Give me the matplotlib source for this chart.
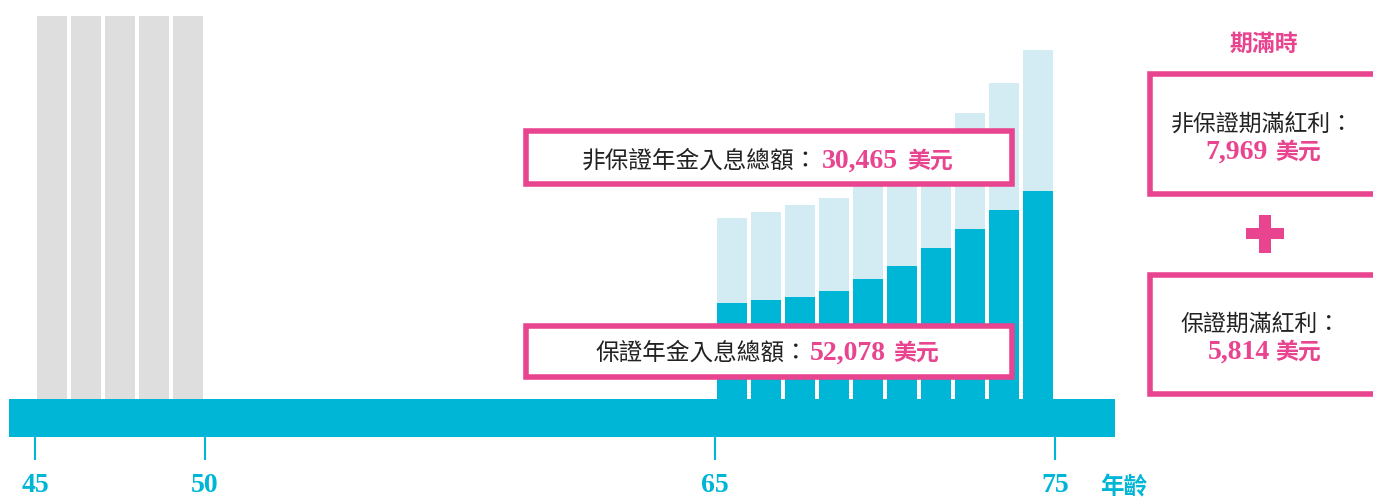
import numpy as np
import matplotlib
matplotlib.use("Agg")
import matplotlib.pyplot as plt
from matplotlib.patches import Rectangle

# ---------------- data ----------------
gray_ages = [45, 46, 47, 48, 49]
gray_heights = [383, 383, 383, 383, 383]

payout_ages = [65, 66, 67, 68, 69, 70, 71, 72, 73, 74]
guaranteed = [96, 99, 102, 108, 120, 133, 151, 170, 189, 208]
non_guaranteed = [85, 88, 92, 93, 95, 100, 107, 116, 127, 141]

tick_ages = [45, 50, 65, 75]
tick_labels = ["45", "50", "65", "75"]

nonguar_total_label = "非保證年金入息總額："
nonguar_total_value = "30,465"
guar_total_label = "保證年金入息總額："
guar_total_value = "52,078"
unit = "美元"
maturity_title = "期滿時"
nonguar_bonus_label = "非保證期滿紅利："
nonguar_bonus_value = "7,969"
guar_bonus_label = "保證期滿紅利："
guar_bonus_value = "5,814"
axis_label = "年齡"

# ---------------- style ----------------
CYAN = "#00B6D6"
LIGHT = "#D3EBF2"
GRAY = "#DEDEDE"
PINK = "#E8448F"
DARK = "#222222"
CJK = ["Noto Sans CJK TC", "DejaVu Sans"]
SERIF = ["Liberation Serif", "DejaVu Serif"]

W, H = 1373, 497
fig = plt.figure(figsize=(W / 100, H / 100), dpi=100)
fig.patch.set_facecolor("white")

# main axes: x in age, y in value units (pixel-like)
px_per_year = 34.0
x0_px = 35.0
ax = fig.add_axes([0, 0, 1, 1])
ax.set_xlim(45 - x0_px / px_per_year, 45 + (W - x0_px) / px_per_year)
ax.set_ylim(-98, 399)
ax.set_facecolor("none")
for s in ["top", "right", "left"]:
    ax.spines[s].set_visible(False)
ax.spines["bottom"].set_position(("data", -38))
ax.spines["bottom"].set_color("none")
ax.set_yticks([])

bw = 0.88
gx = np.array(gray_ages) + 0.5
px = np.array(payout_ages) + 0.5
ax.bar(gx, gray_heights, width=bw, color=GRAY, linewidth=0, zorder=2)
ax.bar(px, guaranteed, width=bw, color=CYAN, linewidth=0, zorder=2)
ax.bar(px, non_guaranteed, width=bw, bottom=guaranteed, color=LIGHT,
       linewidth=0, zorder=2)

# baseline band
band_left = 45 + (9 - x0_px) / px_per_year
band_right = 45 + (1115 - x0_px) / px_per_year
ax.fill_between([band_left, band_right], -38, 0, color=CYAN, linewidth=0, zorder=3)

ax.set_xticks(tick_ages)
ax.set_xticklabels(tick_labels, fontfamily=SERIF, fontweight="bold",
                   fontsize=20, color=CYAN)
ax.tick_params(axis="x", direction="out", length=16.5, width=1.5,
               color=CYAN, pad=9.5)

# overlay axes in pixel coords for annotations
ov = fig.add_axes([0, 0, 1, 1])
ov.set_xlim(0, W)
ov.set_ylim(H, 0)
ov.axis("off")
ov.set_facecolor("none")

lw = 4.0  # points (~5.5 px)
def box(x0, y0, x1, y1):
    r = Rectangle((x0 + 2.75, y0 + 2.75), x1 - x0 - 5.5, y1 - y0 - 5.5,
                  facecolor="white", edgecolor=PINK, linewidth=lw, zorder=5,
                  clip_on=True)
    ov.add_patch(r)

box(523, 128, 1015, 187)
box(523, 323, 1015, 380)
box(1147, 71, 1390, 197)
box(1147, 272, 1390, 397)

def t(x, y, s, fam, size, color, weight="normal", ha="left"):
    ov.text(x, y, s, fontfamily=fam, fontsize=size, color=color,
            fontweight=weight, ha=ha, va="baseline", zorder=6)

# box 1
t(582, 168, nonguar_total_label, CJK, 17, DARK)
t(822, 168, nonguar_total_value, SERIF, 20, PINK, "bold")
t(907, 168, unit, CJK, 16.5, PINK, "bold")
# box 2
t(595, 360, guar_total_label, CJK, 17, DARK)
t(810, 360, guar_total_value, SERIF, 20, PINK, "bold")
t(893, 360, unit, CJK, 16.5, PINK, "bold")

# right side
t(1264, 51, maturity_title, CJK, 16.5, PINK, "bold", ha="center")
t(1262, 131, nonguar_bonus_label, CJK, 16.5, DARK, ha="center")
t(1205, 159, nonguar_bonus_value, SERIF, 20, PINK, "bold")
t(1275, 159, unit, CJK, 16.5, PINK, "bold")
t(1261, 331, guar_bonus_label, CJK, 16.5, DARK, ha="center")
t(1208, 359, guar_bonus_value, SERIF, 20, PINK, "bold")
t(1275, 359, unit, CJK, 16.5, PINK, "bold")

# plus sign
ov.add_patch(Rectangle((1246, 228), 38, 11, color=PINK, linewidth=0, zorder=6))
ov.add_patch(Rectangle((1259, 215), 12, 38, color=PINK, linewidth=0, zorder=6))

# axis label
t(1100, 494, axis_label, CJK, 17, CYAN, "bold")

fig.savefig("out.png", dpi=100, facecolor="white")
